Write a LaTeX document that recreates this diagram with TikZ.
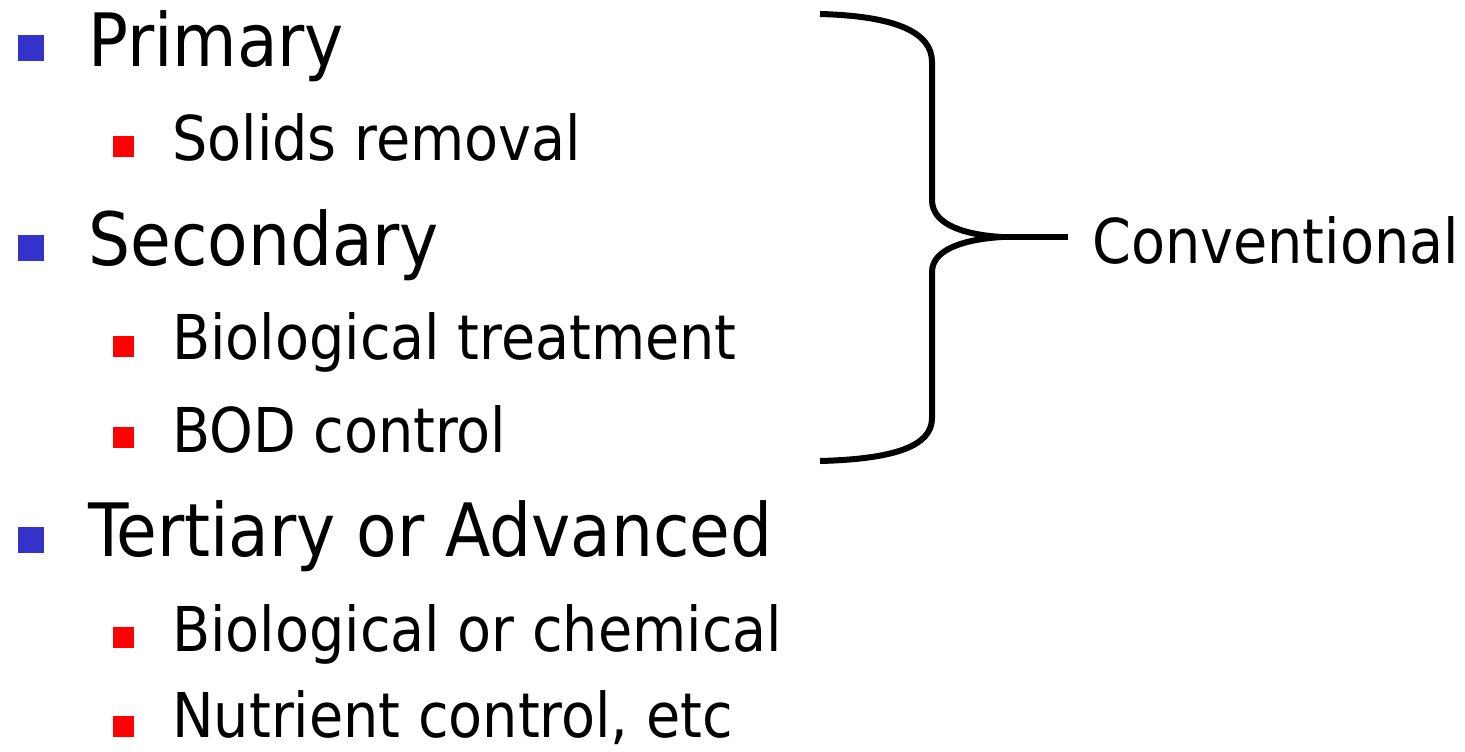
\documentclass[tikz,border=0pt]{standalone}
\usepackage{fontspec}
\setmainfont{DejaVu Sans Condensed}
\usepackage{xcolor}
\definecolor{bulletblue}{HTML}{3333CC}
\definecolor{bulletred}{HTML}{FF0000}

\begin{document}
\begin{tikzpicture}[x=0.5pt,y=-0.5pt]

\tikzset{
lvlone/.style={anchor=base west,inner sep=0pt,font=\fontsize{36.8}{40}\selectfont},
lvltwo/.style={anchor=base west,inner sep=0pt,font=\fontsize{30.9}{36}\selectfont},
bigdot/.style={fill=bulletblue,minimum size=13pt,inner sep=0pt,anchor=south west},
smalldot/.style={fill=bulletred,minimum size=10.3pt,inner sep=0pt,anchor=south west},
bracel/.style={draw=black,line width=3pt}
}

\useasboundingbox (0,0) rectangle (1465,751);

% main levels
\node[bigdot] (dprimary) at (18,61) {};
\node[lvlone] (primary) at (88,66) {Primary};
\node[bigdot] (dsecondary) at (18,261) {};
\node[lvlone] (secondary) at (88,265) {Secondary};
\node[bigdot] (dtertiary) at (18,553) {};
\node[lvlone] (tertiary) at (88,556) {Tertiary or Advanced};

% sub points
\node[smalldot] (dsolids) at (113,157) {};
\node[lvltwo] (solids) at (172,160) {Solids removal};
\node[smalldot] (dbio) at (113,357) {};
\node[lvltwo] (bio) at (172,359) {Biological treatment};
\node[smalldot] (dbod) at (113,448) {};
\node[lvltwo] (bod) at (172,452) {BOD control};
\node[smalldot] (dchem) at (113,648) {};
\node[lvltwo] (chem) at (172,651) {Biological or chemical};
\node[smalldot] (dnutr) at (113,737) {};
\node[lvltwo] (nutr) at (172,737) {Nutrient control, etc};

% brace
\coordinate (bracetop) at (820,14);
\coordinate (bracebot) at (820,461);
\coordinate (bracetip) at (1002,237);
\node[lvltwo] (conv) at (1092,263) {Conventional};

\draw[bracel] (bracetop) .. controls (895,16) and (932,32) .. (932,62)
  -- (932,200) .. controls (932,226) and (968,235) .. (bracetip)
  .. controls (968,239) and (932,248) .. (932,272)
  -- (932,418) .. controls (932,446) and (895,459) .. (bracebot);
\draw[bracel] (bracetip) -- ([xshift=-12pt]conv.west |- bracetip);

\end{tikzpicture}
\end{document}
